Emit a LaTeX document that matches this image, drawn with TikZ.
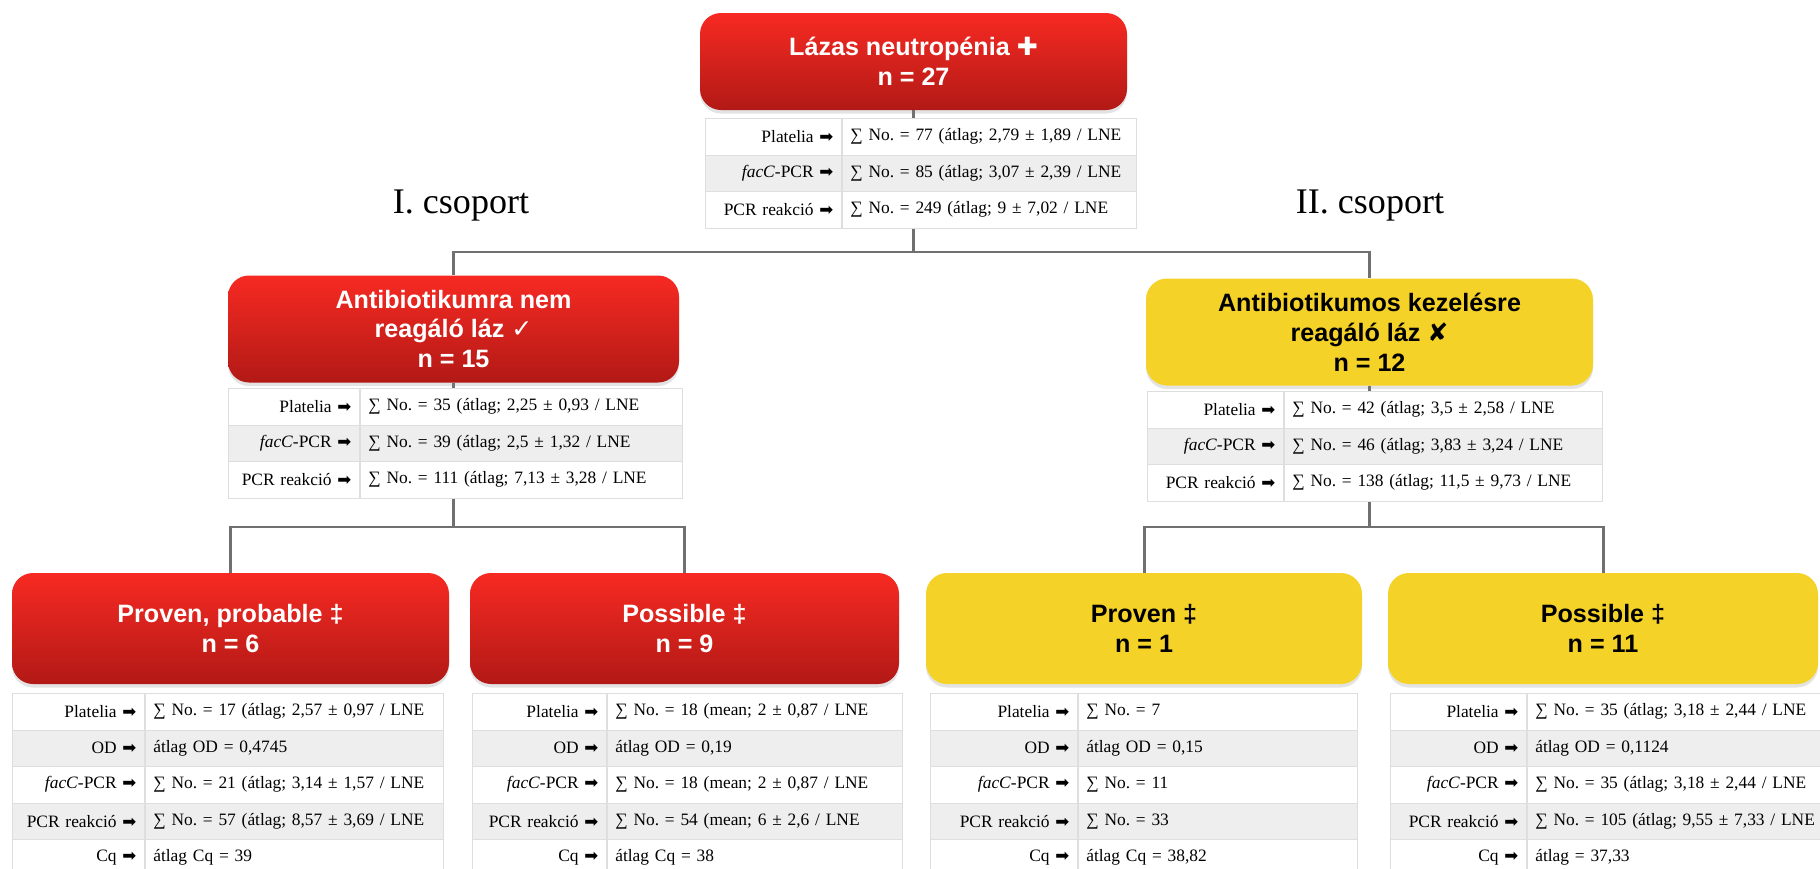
\documentclass[tikz,border=0pt]{standalone}
\usepackage{fontspec}
\setmainfont{Liberation Serif}
\newfontfamily\heros{Liberation Sans}
\newfontfamily\dejavu{DejaVu Sans}
\usetikzlibrary{positioning,shadows,backgrounds,calc}
\definecolor{redtop}{RGB}{247,42,34}
\definecolor{redbot}{RGB}{178,25,22}
\definecolor{amber}{RGB}{244,210,40}
\definecolor{wire}{RGB}{112,112,112}
\definecolor{cellline}{RGB}{222,222,222}
\definecolor{rowgray}{RGB}{238,238,238}
\def\pxu{0.02cm}
\def\rowh{36.5}
\newcommand{\arr}{{\dejavu\fontsize{9.5}{9.5}\selectfont ➡}}
\newcommand{\sym}[1]{{\dejavu #1}}
\tikzset{
  groupbox/.style={rounded corners=0.42cm,minimum width=#1*\pxu,align=center,
    font=\heros\bfseries\fontsize{14.3}{17}\selectfont,
    drop shadow={opacity=0.22,shadow xshift=0pt,shadow yshift=-2pt}},
  redbox/.style={groupbox=#1,top color=redtop,bottom color=redbot,text=white},
  yellowbox/.style={groupbox=#1,fill=amber,text=black},
  cell/.style={draw=cellline,line width=0.5pt,anchor=north west,inner xsep=8*\pxu,inner ysep=0pt,
    minimum height=\rowh*\pxu,font=\frenchspacing\fontsize{9.9}{11}\selectfont},
  grouplab/.style={font=\fontsize{20.5}{24}\selectfont},
  link/.style={draw=wire,line width=1.7pt},
}
% one stats table: name, left x, top y, label width, value width, rows
\newcommand{\stattable}[6]{%
  \pgfmathsetlengthmacro\labw{#4*\pxu}%
  \pgfmathsetlengthmacro\valw{#5*\pxu}%
  \pgfmathsetlengthmacro\labtw{(#4-16)*\pxu}%
  \pgfmathsetlengthmacro\valtw{(#5-16)*\pxu}%
  \foreach \lab/\val [count=\i] in {#6}{%
    \ifodd\i\def\rowfill{white}\else\def\rowfill{rowgray}\fi
    \node[cell,fill=\rowfill,minimum width=\labw,text width=\labtw,align=right]
      (#1l\i) at ({#2},{#3+(\i-1)*\rowh}) {\lab\ \arr};
    \node[cell,fill=\rowfill,minimum width=\valw,text width=\valtw,align=left]
      (#1v\i) at (#1l\i.north east) {\val};
  }}

\begin{document}
\begin{tikzpicture}[x=0.02cm,y=-0.02cm]
  \useasboundingbox (0,0) rectangle (1820,869);

  % boxes
  \node[redbox=427,minimum height=97*\pxu] (top) at (913.5,61.5) {Lázas neutropénia \sym{✚}\\n = 27};
  \node[redbox=451,minimum height=107*\pxu] (mleft) at (453.5,329) {Antibiotikumra nem\\reagáló láz \sym{✓}\\n = 15};
  \node[yellowbox=447,minimum height=107*\pxu] (mright) at (1369.5,332) {Antibiotikumos kezelésre\\reagáló láz \sym{✘}\\n = 12};
  \node[redbox=437,minimum height=111*\pxu] (bl1) at (230.5,628.5) {Proven, probable ‡\\n = 6};
  \node[redbox=429,minimum height=111*\pxu] (bl2) at (684.5,628.5) {Possible ‡\\n = 9};
  \node[yellowbox=436,minimum height=111*\pxu] (br1) at (1144,628.5) {Proven ‡\\n = 1};
  \node[yellowbox=430,minimum height=111*\pxu] (br2) at (1603,628.5) {Possible ‡\\n = 11};

  % group titles
  \node[grouplab] (g1) at (461,206) {I. csoport};
  \node[grouplab] (g2) at (1370,206) {II. csoport};

  % tables
  \stattable{ttop}{705}{118}{136}{294}{Platelia/{∑ No. = 77 (átlag; 2,79 ± 1,89 / LNE},
    \textit{facC}-PCR/{∑ No. = 85 (átlag; 3,07 ± 2,39 / LNE},
    PCR reakció/{∑ No. = 249 (átlag; 9 ± 7,02 / LNE}}
  \stattable{tml}{228}{388}{131}{322}{Platelia/{∑ No. = 35 (átlag; 2,25 ± 0,93 / LNE},
    \textit{facC}-PCR/{∑ No. = 39 (átlag; 2,5 ± 1,32 / LNE},
    PCR reakció/{∑ No. = 111 (átlag; 7,13 ± 3,28 / LNE}}
  \stattable{tmr}{1147}{391}{136}{318}{Platelia/{∑ No. = 42 (átlag; 3,5 ± 2,58 / LNE},
    \textit{facC}-PCR/{∑ No. = 46 (átlag; 3,83 ± 3,24 / LNE},
    PCR reakció/{∑ No. = 138 (átlag; 11,5 ± 9,73 / LNE}}
  \stattable{tbl1}{12}{693}{132}{298}{Platelia/{∑ No. = 17 (átlag; 2,57 ± 0,97 / LNE},
    OD/{átlag OD = 0,4745},
    \textit{facC}-PCR/{∑ No. = 21 (átlag; 3,14 ± 1,57 / LNE},
    PCR reakció/{∑ No. = 57 (átlag; 8,57 ± 3,69 / LNE},
    Cq/{átlag Cq = 39}}
  \stattable{tbl2}{472}{693}{134}{295}{Platelia/{∑ No. = 18 (mean; 2 ± 0,87 / LNE},
    OD/{átlag OD = 0,19},
    \textit{facC}-PCR/{∑ No. = 18 (mean; 2 ± 0,87 / LNE},
    PCR reakció/{∑ No. = 54 (mean; 6 ± 2,6 / LNE},
    Cq/{átlag Cq = 38}}
  \stattable{tbr1}{930}{693}{147}{279}{Platelia/{∑ No. = 7},
    OD/{átlag OD = 0,15},
    \textit{facC}-PCR/{∑ No. = 11},
    PCR reakció/{∑ No. = 33},
    Cq/{átlag Cq = 38,82}}
  \stattable{tbr2}{1390}{693}{136}{310}{Platelia/{∑ No. = 35 (átlag; 3,18 ± 2,44 / LNE},
    OD/{átlag OD = 0,1124},
    \textit{facC}-PCR/{∑ No. = 35 (átlag; 3,18 ± 2,44 / LNE},
    PCR reakció/{∑ No. = 105 (átlag; 9,55 ± 7,33 / LNE},
    Cq/{átlag = 37,33}}

  % tree lines
  \coordinate (lvl1) at (0,252);
  \coordinate (lvl2) at (0,527);
  \begin{scope}[on background layer]
    \draw[link] (top.south) -- (top.south |- lvl1);
    \draw[link] (mleft.north) |- (top.south |- lvl1) -| (mright.north);
    \draw[link] (mleft.south) -- (mleft.south |- lvl2);
    \draw[link] (bl1.north) |- (mleft.south |- lvl2) -| (bl2.north);
    \draw[link] (mright.south) -- (mright.south |- lvl2);
    \draw[link] (br1.north) |- (mright.south |- lvl2) -| (br2.north);
  \end{scope}
\end{tikzpicture}
\end{document}
